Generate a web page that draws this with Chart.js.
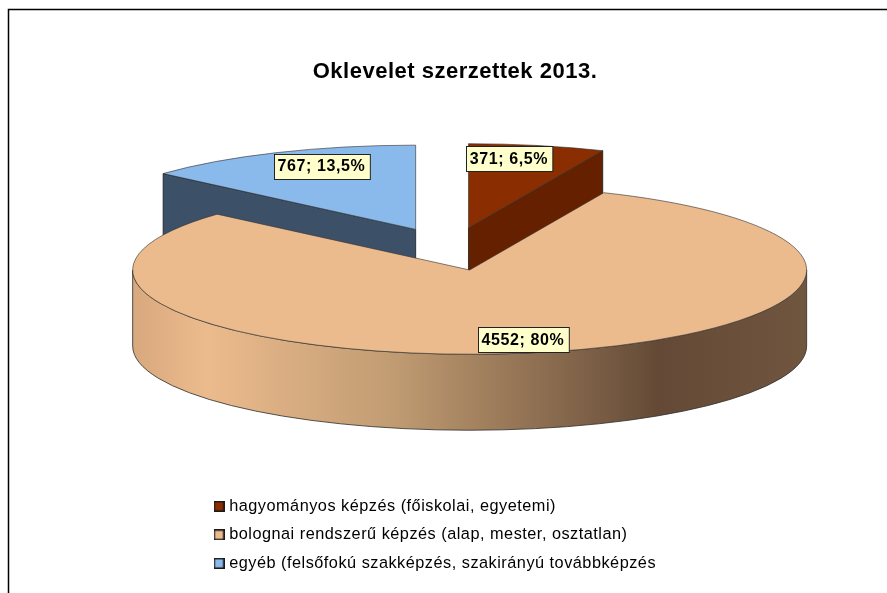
<!DOCTYPE html>
<html>
<head>
<meta charset="utf-8">
<style>
  html, body { margin: 0; padding: 0; background: #fff; overflow: hidden; }
  #wrap { position: absolute; left: 0; top: 0; width: 887px; height: 593px; }
</style>
<script src="https://cdn.jsdelivr.net/npm/chart.js@4"></script>
</head>
<body>
<div id="wrap"><canvas id="chart"></canvas></div>
<script>
const categories = [
    'hagyományos képzés (főiskolai, egyetemi)',
    'bolognai rendszerű képzés (alap, mester, osztatlan)',
    'egyéb (felsőfokú szakképzés, szakirányú továbbképzés'
];
const values = [371, 4552, 767];
const valueLabels = ['371; 6,5%', '4552; 80%', '767; 13,5%'];

const topColors = ['#8a2d00', '#ecbb8d', '#8abaeb'];
const wallColors = ['#652000', null, '#3c5168'];
const labelCenters = [[509, 158.5], [523, 339.5], [321.5, 166]];

// the flattened pie: where its centre lands on the page, how squashed it is
const PIE_X = 451;
const PIE_Y = 249;
const TILT = 0.25;
const DEPTH = 76;
const RADIUS = 337;
const EXPLODE = 86;

// every slice is pulled out along its own middle angle
const sliceCenter = arc => {
    const half = (arc.startAngle + arc.endAngle) / 2;
    return [
        PIE_X + Math.cos(half) * EXPLODE,
        PIE_Y + Math.sin(half) * EXPLODE * TILT
    ];
};

// radial cut of an exploded slice, from the apex out to the rim
function drawCutWall(ctx, arc, angle, color) {
    const [ax, ay] = sliceCenter(arc);
    const rx = ax + Math.cos(angle) * arc.outerRadius;
    const ry = ay + Math.sin(angle) * arc.outerRadius * TILT;
    ctx.beginPath();
    ctx.moveTo(ax, ay);
    ctx.lineTo(rx, ry);
    ctx.lineTo(rx, ry + DEPTH);
    ctx.lineTo(ax, ay + DEPTH);
    ctx.closePath();
    ctx.fillStyle = color;
    ctx.fill();
    ctx.strokeStyle = '#1c1c1c';
    ctx.lineWidth = 0.8;
    ctx.stroke();
}

function drawRimWall(ctx, arc) {
    const [cx, cy] = sliceCenter(arc);
    const r = arc.outerRadius;
    const grad = ctx.createLinearGradient(cx - r, 0, cx + r, 0);
    grad.addColorStop(0, '#d8a87e');
    grad.addColorStop(0.11, '#ecbb8d');
    grad.addColorStop(0.39, '#c09b72');
    grad.addColorStop(0.78, '#644a36');
    grad.addColorStop(1, '#70563f');
    ctx.beginPath();
    ctx.ellipse(cx, cy, r, r * TILT, 0, 0, Math.PI);
    ctx.ellipse(cx, cy + DEPTH, r, r * TILT, 0, Math.PI, 0, true);
    ctx.closePath();
    ctx.fillStyle = grad;
    ctx.fill();
    ctx.strokeStyle = '#2b2b2b';
    ctx.lineWidth = 0.8;
    ctx.stroke();
}

const pie3d = {
    id: 'pie3d',
    afterLayout(chart) {
        // title sits centred on the frame, legend block is left aligned under the pie
        chart.titleBlock.left += 11.5;
        chart.titleBlock.right += 11.5;
        const legend = chart.legend;
        legend.left = 204.8;
        legend.right = 700; // the legend clips to its box, leave room for the wider text
        legend.top = 486;
        legend.bottom = 590;
    },
    beforeDraw(chart) {
        const { ctx } = chart;
        ctx.save();
        ctx.strokeStyle = '#000';
        ctx.lineWidth = 1.5;
        ctx.beginPath();
        ctx.moveTo(8.5, 593);
        ctx.lineTo(8.5, 9.5);
        ctx.lineTo(887, 9.5);
        ctx.stroke();
        ctx.restore();
        // the reference text runs a little wider than the installed Arial metric font
        ctx.letterSpacing = '0.5px';
    },
    beforeDatasetsDraw(chart) {
        const { ctx } = chart;
        const arcs = chart.getDatasetMeta(0).data;
        ctx.save();
        drawCutWall(ctx, arcs[2], arcs[2].startAngle, wallColors[2]);
        drawCutWall(ctx, arcs[0], arcs[0].endAngle, wallColors[0]);
        drawRimWall(ctx, arcs[1]);
        ctx.restore();
    },
    // draw the library's arc elements one by one, each in its own flattened, shifted frame
    beforeDatasetDraw(chart) {
        const { ctx } = chart;
        chart.getDatasetMeta(0).data.forEach(arc => {
            const [cx, cy] = sliceCenter(arc);
            ctx.save();
            ctx.translate(cx, cy);
            ctx.scale(1, TILT);
            ctx.translate(-arc.x, -arc.y);
            arc.draw(ctx);
            ctx.restore();
        });
        return false;
    },
    afterDatasetsDraw(chart) {
        const { ctx } = chart;
        ctx.save();
        ctx.font = 'bold 16px "Liberation Sans", Arial, sans-serif';
        ctx.letterSpacing = '0.6px';
        ctx.textAlign = 'center';
        ctx.textBaseline = 'middle';
        valueLabels.forEach((text, i) => {
            const [x, y] = labelCenters[i];
            const w = ctx.measureText(text).width + 8;
            const h = 25;
            const left = Math.round(x - w / 2) + 0.5;
            const top = Math.round(y - h / 2) + 0.5;
            ctx.fillStyle = '#ffffcc';
            ctx.fillRect(left, top, w, h);
            ctx.strokeStyle = '#222';
            ctx.lineWidth = 1;
            ctx.strokeRect(left, top, w, h);
            ctx.fillStyle = '#000';
            ctx.fillText(text, x, y + 1);
        });
        ctx.restore();
    }
};

// legend swatch as a small canvas, so it can sit closer to the text than the default box
function swatch(color) {
    const c = document.createElement('canvas');
    c.width = 11;
    c.height = 11;
    const g = c.getContext('2d');
    g.fillStyle = color;
    g.fillRect(0, 0, 11, 11);
    g.strokeStyle = '#1a1a1a';
    g.lineWidth = 1.5;
    g.strokeRect(0.75, 0.75, 9.5, 9.5);
    return c;
}

Chart.defaults.font.family = '"Liberation Sans", Arial, sans-serif';

new Chart(document.getElementById('chart'), {
    type: 'pie',
    plugins: [pie3d],
    data: {
        labels: categories,
        datasets: [{
            data: values,
            backgroundColor: topColors,
            borderColor: '#333333',
            borderWidth: 1,
            clip: false
        }]
    },
    options: {
        responsive: true,
        maintainAspectRatio: false,
        animation: false,
        radius: RADIUS,
        layout: { padding: 0 },
        plugins: {
            tooltip: { enabled: false },
            title: {
                display: true,
                text: 'Oklevelet szerzettek 2013.',
                color: '#000',
                font: { size: 22, weight: 'bold' },
                padding: { top: 59, bottom: 10 }
            },
            legend: {
                position: 'left',
                align: 'start',
                labels: {
                    color: '#000',
                    font: { size: 16.3 },
                    usePointStyle: true,
                    boxWidth: 4,
                    boxHeight: 11,
                    padding: 12.2,
                    generateLabels(chart) {
                        const items = Chart.overrides.pie.plugins.legend.labels.generateLabels(chart);
                        items.forEach((item, i) => { item.pointStyle = swatch(topColors[i]); });
                        return items;
                    }
                }
            }
        }
    }
});
</script>
</body>
</html>
